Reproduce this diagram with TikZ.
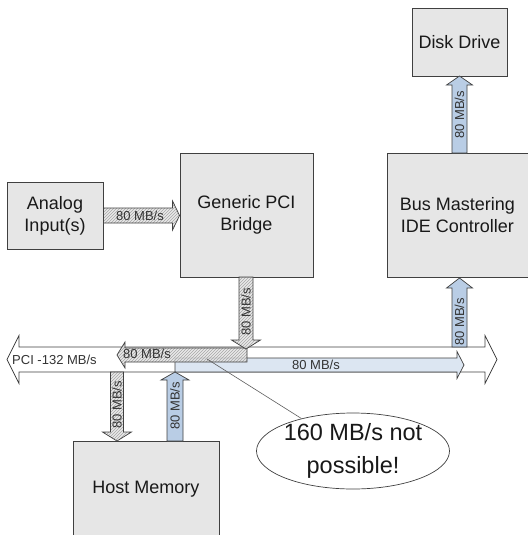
\documentclass[tikz,border=0pt]{standalone}
\usepackage{fontspec}
\setmainfont{Liberation Sans}
\usetikzlibrary{calc,patterns,shapes.geometric}
\definecolor{boxfill}{HTML}{E6E6E6}
\definecolor{lineclr}{HTML}{404040}
\definecolor{bluefill}{HTML}{B9CDE5}
\definecolor{lightblue}{HTML}{DCE6F2}
\definecolor{hatchbg}{HTML}{E4E4E4}
\definecolor{hatchln}{HTML}{A6A6A6}
% block arrow: #1 style, #2 from, #3 to, #4 half shaft, #5 half head, #6 head length
\newcommand{\blockarrow}[6]{%
  \coordinate (ba-c) at ($(#3)!#6!(#2)$);
  \path[#1] ($(#2)!#4!90:(#3)$) -- ($(ba-c)!#4!90:(#3)$) -- ($(ba-c)!#5!90:(#3)$)
    -- (#3) -- ($(ba-c)!#5!-90:(#3)$) -- ($(ba-c)!#4!-90:(#3)$) -- ($(#2)!#4!-90:(#3)$) -- cycle;
}
\begin{document}
\begin{tikzpicture}[x=1pt,y=-1pt,
  box/.style={draw=lineclr, fill=boxfill, line width=0.9pt, align=center, inner sep=0pt,
    text=black!90, font=\fontsize{18}{22}\selectfont},
  hatched/.style={draw=lineclr, line width=0.7pt,
    preaction={fill=hatchbg, fill opacity=0.8}, pattern=north east lines, pattern color=hatchln},
  bluearrow/.style={draw=lineclr, line width=0.7pt, fill=bluefill},
  busblue/.style={draw=lineclr, line width=0.7pt, fill=lightblue},
  busarrow/.style={draw=lineclr, line width=0.8pt, fill=white},
  lbl/.style={font=\fontsize{13}{13}\selectfont, inner sep=0pt, text=black!80},
  ]
\useasboundingbox (0,0) rectangle (527,535);

% boxes
\node[box, minimum width=96pt, minimum height=67pt] (analog) at (55,215.5) {Analog\\Input(s)};
\node[box, minimum width=133pt, minimum height=124pt] (bridge) at (246.5,215) {Generic PCI\\Bridge};
\node[box, minimum width=95pt, minimum height=68pt] (disk) at (459.5,42) {Disk Drive};
\node[box, minimum width=141pt, minimum height=124pt] (ide) at (457.5,215) {Bus Mastering\\IDE Controller};
\node[box, minimum width=146pt, minimum height=96pt] (host) at (146,489) {Host Memory};

% PCI bus
\coordinate (busL) at (7,359.5);
\coordinate (busR) at (497,359.5);
\path[busarrow] (busL) -- (19,335.5) -- (19,347) -- (485,347) -- (485,335.5) -- (busR)
  -- (485,383.5) -- (485,372) -- (19,372) -- (19,383.5) -- cycle;

% transfers on the bus
\coordinate (blueTail) at (175,365);
\coordinate (blueTip) at (464,365);
\blockarrow{busblue}{blueTail}{blueTip}{7pt}{13.5pt}{7pt}
\coordinate (hatchTail) at (247,355);
\coordinate (hatchTip) at (117,355);
\blockarrow{hatched}{hatchTail}{hatchTip}{7pt}{13pt}{8pt}

% analog -> bridge
\coordinate (a2b) at (analog.east -| bridge.west);
\blockarrow{hatched}{analog.east}{a2b}{7.5pt}{14.5pt}{7pt}

% bridge -> bus
\coordinate (bridgeTip) at (246,349);
\coordinate (bridgeTail) at (246,277);
\blockarrow{hatched}{bridgeTail}{bridgeTip}{7pt}{14.5pt}{9pt}

% bus -> host
\coordinate (hostHatchTop) at (117,372);
\coordinate (hostHatchTip) at (117,441);
\blockarrow{hatched}{hostHatchTop}{hostHatchTip}{6.5pt}{14.5pt}{9pt}

% host -> bus
\coordinate (hostBlueBase) at (175,441);
\coordinate (hostBlueTip) at (175,372);
\blockarrow{bluearrow}{hostBlueBase}{hostBlueTip}{8pt}{14pt}{8pt}

% bus -> IDE
\coordinate (ideBase) at (459.5,347);
\coordinate (ideTip) at (459.5,278);
\blockarrow{bluearrow}{ideBase}{ideTip}{7.5pt}{13pt}{10pt}

% IDE -> disk
\coordinate (diskBase) at (459.5,153);
\coordinate (diskTip) at (459.5,76);
\blockarrow{bluearrow}{diskBase}{diskTip}{7.5pt}{13pt}{9pt}

% labels
\node[lbl] (l1) at (140,215.5) {80 MB/s};
\node[lbl, rotate=90] (l2) at (246,312) {80 MB/s};
\node[lbl] (l3) at (147,354) {80 MB/s};
\node[lbl] (l4) at (316,364.5) {80 MB/s};
\node[lbl, anchor=west] (l5) at (12,359.5) {PCI -132 MB/s};
\node[lbl, rotate=90] (l6) at (117,405) {80 MB/s};
\node[lbl, rotate=90] (l7) at (175,406) {80 MB/s};
\node[lbl, rotate=90] (l8) at (459.5,322) {80 MB/s};
\node[lbl, rotate=90] (l9) at (459.5,115) {80 MB/s};

% callout
\node[draw=lineclr, ellipse, fill=white, minimum width=193pt, minimum height=76pt,
  inner sep=0pt, line width=0.7pt] (callout) at (353,451) {};
\coordinate (hot) at (207,359);
\draw[lineclr!85, line width=0.6pt] (hot) -- (callout);
\node[font=\fontsize{23.5}{33}\selectfont, align=center, text=black!90] (ctext) at (callout) {160 MB/s not\\possible!};
\end{tikzpicture}
\end{document}
